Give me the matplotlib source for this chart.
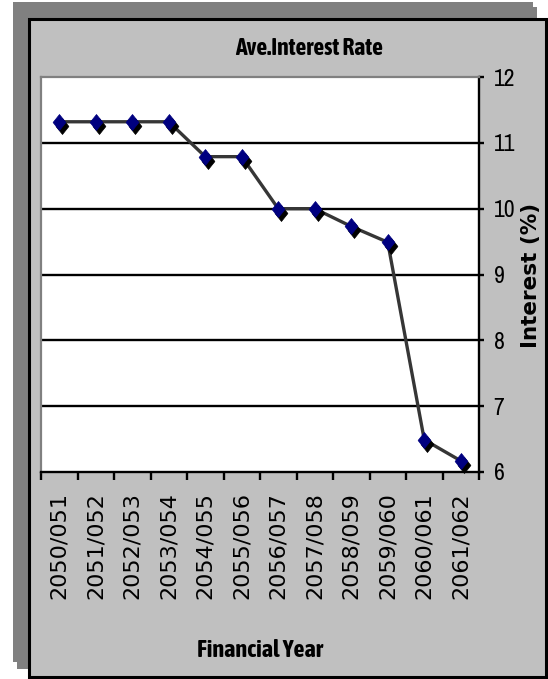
import matplotlib
matplotlib.use("Agg")
import matplotlib.pyplot as plt
from matplotlib.patches import Rectangle
from matplotlib.path import Path
from matplotlib.transforms import ScaledTranslation
from matplotlib import font_manager

# ---- data ----
years = ["2050/051", "2051/052", "2052/053", "2053/054", "2054/055", "2055/056",
         "2056/057", "2057/058", "2058/059", "2059/060", "2060/061", "2061/062"]
rates = [11.32, 11.32, 11.32, 11.32, 10.79, 10.79, 10.0, 10.0, 9.73, 9.49, 6.49, 6.17]
yticks = [6, 7, 8, 9, 10, 11, 12]

title = "Ave.Interest Rate"
xlabel = "Financial Year"
ylabel = "Interest (%)"

W, H = 548, 679
fig = plt.figure(figsize=(W / 100, H / 100), dpi=100)
fig.patch.set_facecolor("white")

# condensed faces for the captions: regular for tick numbers, bold for titles
fonts = font_manager.fontManager.ttflist


def is_bold(f):
    w = f.weight
    if isinstance(w, str):
        return w.lower() in ("bold", "heavy", "black", "extra bold", "semibold", "demibold")
    return w >= 600


narrow = [f for f in fonts if "Narrow" in f.name or "Condensed" in f.name]
narrow_reg = sorted({f.name for f in narrow if not is_bold(f)})
narrow_bold = sorted({f.name for f in narrow if is_bold(f)})

if narrow_reg:
    num_font, num_scale = dict(family=[narrow_reg[0], "DejaVu Sans"]), 1.0
else:
    num_font, num_scale = dict(family="Liberation Sans"), 0.82
if narrow_bold:
    cap_font, cap_scale = dict(family=[narrow_bold[0], "DejaVu Sans"]), 1.0
else:
    cap_font, cap_scale = dict(family="Liberation Sans"), 0.82


def fig_rect(x0, y0, x1, y1):
    """pixel box (top-left origin) -> figure fraction (left, bottom, w, h)"""
    return (x0 / W, 1 - y1 / H, (x1 - x0) / W, (y1 - y0) / H)


def add_box(x0, y0, x1, y1, **kw):
    l, b, w, h = fig_rect(x0, y0, x1, y1)
    fig.add_artist(Rectangle((l, b), w, h, transform=fig.transFigure, **kw))


# drop shadow and chart frame
add_box(13, 2, 533, 662, facecolor="#808080", edgecolor="none", zorder=-2)
add_box(17, 7, 537, 669, facecolor="#808080", edgecolor="none", zorder=-2)
add_box(29, 19, 546, 677, facecolor="#C0C0C0", edgecolor="black", linewidth=2.2, zorder=-1)

# plot area
ax = fig.add_axes(fig_rect(41, 77, 479, 472))
ax.set_zorder(1)
ax.set_facecolor("white")
x = list(range(len(years)))
ax.set_xlim(-0.5, len(years) - 0.5)
ax.set_ylim(min(yticks), max(yticks))

for v in yticks[1:-1]:
    ax.axhline(v, color="black", linewidth=1.7, zorder=1)

# diamond marker, slightly taller than wide
diamond = Path([(0, 1), (0.8, 0), (0, -1), (-0.8, 0), (0, 1)],
               [Path.MOVETO, Path.LINETO, Path.LINETO, Path.LINETO, Path.CLOSEPOLY])

ax.plot(x, rates, color="#363636", linewidth=2.4, zorder=3, solid_capstyle="butt")
shadow = ax.transData + ScaledTranslation(3 / 100, -4 / 100, fig.dpi_scale_trans)
ax.plot(x, rates, linestyle="none", marker=diamond, markersize=11.5,
        markerfacecolor="black", markeredgecolor="black", markeredgewidth=0.5,
        transform=shadow, zorder=4, clip_on=False)
ax.plot(x, rates, linestyle="none", marker=diamond, markersize=11.5,
        markerfacecolor="#000080", markeredgecolor="#000080", markeredgewidth=0.5,
        zorder=5, clip_on=False)

# spines: gray inset on top/left, black axes on right/bottom
for side in ("top", "left"):
    ax.spines[side].set_color("#808080")
    ax.spines[side].set_linewidth(1.6)
for side in ("right", "bottom"):
    ax.spines[side].set_color("black")
    ax.spines[side].set_linewidth(1.7)

# x axis: tick marks between categories, labels at category centres
ax.set_xticks(x)
ax.set_xticklabels(years, rotation=90, fontsize=16, family="DejaVu Sans",
                   fontstretch="normal")
ax.tick_params(axis="x", which="major", length=0, pad=14.5)
ax.set_xticks([i - 0.5 for i in range(len(years) + 1)], minor=True)
ax.tick_params(axis="x", which="minor", length=5.5, width=1.7, color="black", direction="out")

# y axis on the right
ax.yaxis.tick_right()
ax.set_yticks(yticks)
ax.set_yticklabels([str(v) for v in yticks], fontsize=17 * num_scale, **num_font)
ax.tick_params(axis="y", which="major", length=3.5, width=1.7, color="black", pad=7)
ax.tick_params(axis="y", left=False)

# titles
fig.text(309 / W, 1 - 55 / H, title, ha="center", va="baseline",
         fontsize=17 * cap_scale, fontweight="bold", **cap_font)
fig.text(260 / W, 1 - 657 / H, xlabel, ha="center", va="baseline",
         fontsize=17.5 * cap_scale, fontweight="bold", **cap_font)
fig.text(531 / W, 1 - 275 / H, ylabel, ha="center", va="center", rotation=90,
         fontsize=15.5, fontweight="bold", family="DejaVu Sans")

fig.savefig("out.png", dpi=100, facecolor=fig.get_facecolor())
